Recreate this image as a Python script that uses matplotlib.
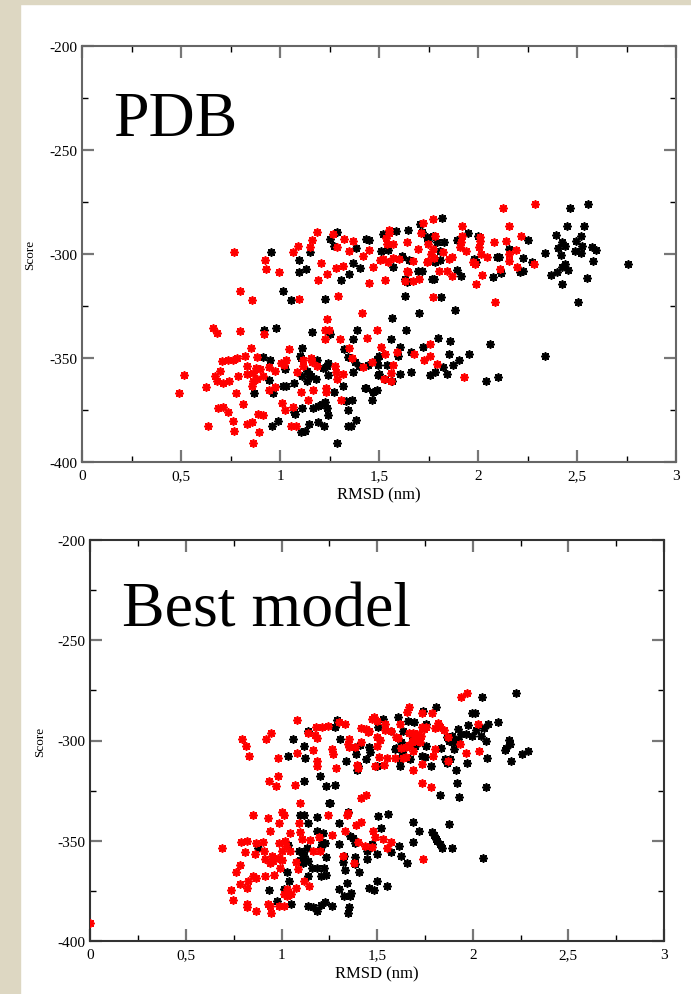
import matplotlib.pyplot as plt
import numpy as np
from matplotlib.patches import Rectangle
from matplotlib.ticker import MultipleLocator, FuncFormatter

plt.rcParams['font.family'] = ['Liberation Serif', 'DejaVu Serif']

# (RMSD nm, score) pairs, PDB panel
pdb_black = [
    (0.955,-298.9),(1.098,-302.8),(1.096,-308.8),(1.133,-307.2),(1.150,-298.9),(1.253,-292.8),(1.286,-289.6),
    (1.273,-296.0),(1.384,-297.3),(1.434,-292.8),(1.451,-293.5),(1.367,-304.5),(1.404,-306.9),(1.350,-309.6),
    (1.306,-312.5),(1.017,-317.7),(1.056,-322.1),(1.229,-321.7),(0.980,-335.4),(0.919,-336.7),(1.163,-337.7),
    (1.254,-338.3),(1.367,-340.9),(1.387,-336.7),(1.323,-345.7),(1.111,-345.2),(1.101,-348.9),(1.105,-350.2),
    (0.912,-349.7),(0.951,-350.8),(1.185,-350.8),(1.244,-352.4),(1.236,-353.7),(1.342,-349.5),(1.380,-351.8),
    (1.397,-353.7),(1.446,-353.4),(1.497,-353.4),(1.492,-350.5),(1.135,-356.4),(1.145,-357.7),(1.155,-358.5),
    (1.135,-361.2),(1.109,-358.5),(1.182,-360.1),(1.244,-358.2),(1.215,-354.7),(1.370,-356.9),(1.493,-358.0),
    (0.944,-360.8),(1.025,-355.3),(1.072,-362.0),(1.017,-363.3),(1.029,-363.3),(0.963,-367.0),(0.870,-367.0),
    (1.274,-366.5),(1.320,-363.3),(1.429,-364.3),(1.468,-366.5),(1.465,-370.1),(1.332,-370.9),(1.362,-370.1),
    (1.229,-371.0),(1.214,-372.1),(1.190,-372.9),(1.168,-374.1),(1.236,-374.1),(1.244,-377.4),(1.111,-374.0),
    (1.072,-375.8),(1.076,-377.1),(1.345,-374.9),(1.384,-379.7),(0.990,-380.2),(0.960,-382.6),(1.145,-381.6),
    (1.194,-381.0),(1.224,-382.9),(1.342,-382.7),(1.359,-382.7),(1.126,-385.0),(1.106,-385.8),(1.286,-391.0),
    (2.557,-276.0),(2.465,-277.9),(2.537,-286.4),(2.451,-286.4),(2.394,-290.9),(2.519,-291.5),(2.495,-293.9),
    (2.423,-294.4),(2.439,-296.0),(2.406,-297.3),(2.524,-296.0),(2.490,-298.4),(2.520,-299.7),(2.577,-296.8),
    (2.596,-298.1),(2.582,-303.2),(2.418,-300.5),(2.340,-299.5),(2.273,-304.0),(2.441,-304.8),(2.423,-306.4),
    (2.453,-307.5),(2.397,-308.5),(2.367,-310.1),(2.423,-314.4),(2.552,-311.5),(2.503,-323.2),(2.756,-305.0),
    (2.254,-293.3),(2.226,-301.9),(2.212,-308.5),(2.229,-308.0),(2.114,-309.1),(2.077,-311.2),(2.108,-301.3),
    (2.094,-301.3),(2.157,-297.6),(2.002,-291.2),(1.951,-290.1),(1.896,-293.3),(1.892,-307.5),(1.912,-310.4),
    (1.981,-302.4),(1.990,-304.0),(1.830,-294.4),(1.808,-298.4),(1.791,-294.4),(1.783,-304.0),(1.808,-302.7),
    (1.766,-312.0),(1.780,-312.0),(1.817,-282.9),(1.707,-285.6),(1.716,-289.6),(1.741,-292.0),(1.749,-293.6),
    (1.771,-291.2),(1.699,-308.0),(1.716,-308.3),(1.653,-302.7),(1.618,-300.8),(1.614,-301.6),(1.584,-289.1),
    (1.645,-288.3),(1.547,-297.9),(1.572,-306.4),(1.522,-290.4),(1.508,-298.4),(1.631,-312.0),(1.643,-313.6),
    (1.813,-320.8),(1.631,-320.0),(1.884,-326.9),(1.704,-328.4),(1.567,-330.9),(1.636,-336.4),(1.561,-340.9),
    (1.606,-344.9),(1.662,-347.3),(1.724,-344.6),(1.796,-340.6),(1.859,-341.7),(1.855,-348.1),(1.955,-348.1),
    (1.906,-351.0),(1.875,-353.2),(1.822,-354.5),(1.842,-357.7),(1.783,-356.9),(1.758,-358.2),(2.062,-343.3),
    (2.337,-348.9),(2.039,-361.2),(2.103,-359.3),(1.598,-348.9),(1.606,-357.7),(1.660,-356.6),(1.500,-348.9),
    (1.542,-353.4),(1.500,-357.7),(1.530,-360.1),(1.564,-360.9),(1.468,-366.5),(1.492,-365.2),(1.433,-364.4),
]
pdb_red = [
    (0.768,-298.9),(0.926,-302.8),(0.929,-307.4),(0.993,-308.8),(1.067,-298.9),(1.093,-296.0),(1.152,-296.7),
    (1.163,-293.1),(1.185,-289.6),(1.269,-290.6),(1.286,-296.8),(1.323,-292.8),(1.367,-293.9),(1.347,-298.6),
    (1.421,-300.8),(1.450,-297.9),(1.471,-306.4),(1.450,-314.0),(1.209,-304.5),(1.190,-312.5),(1.236,-309.8),
    (1.283,-306.9),(1.316,-306.0),(0.798,-317.7),(0.857,-322.3),(1.098,-321.8),(1.293,-320.1),(1.416,-328.6),
    (1.236,-331.3),(0.660,-335.4),(0.680,-337.8),(0.798,-336.9),(0.917,-338.3),(1.229,-336.7),(1.246,-336.7),
    (1.303,-341.1),(1.441,-340.6),(1.492,-336.4),(1.229,-341.1),(1.347,-345.4),(1.044,-345.7),(0.852,-345.2),
    (0.705,-351.3),(0.739,-350.8),(0.761,-350.8),(0.785,-349.9),(0.822,-349.1),(0.886,-349.4),(0.832,-353.7),
    (0.697,-356.1),(0.879,-355.0),(0.899,-355.5),(0.865,-357.0),(0.912,-358.5),(0.882,-360.0),(0.865,-361.2),
    (0.946,-354.4),(0.975,-356.4),(1.005,-352.6),(1.020,-353.2),(1.029,-350.8),(1.087,-356.9),(1.114,-353.7),
    (1.114,-350.8),(1.157,-350.2),(1.160,-351.8),(1.185,-353.7),(1.278,-353.7),(1.283,-356.6),(1.320,-357.7),
    (1.286,-360.1),(1.362,-350.2),(1.421,-354.5),(1.465,-352.1),(0.517,-358.4),(0.673,-358.5),(0.680,-360.9),
    (0.710,-362.0),(0.744,-361.2),(0.788,-358.5),(0.832,-357.7),(0.857,-363.3),(0.492,-367.0),(0.626,-363.8),
    (0.778,-367.0),(0.946,-365.3),(0.976,-364.0),(1.008,-371.4),(1.025,-374.9),(1.067,-373.7),(1.106,-366.5),
    (1.143,-370.2),(1.165,-365.3),(1.232,-364.6),(1.232,-366.5),(1.308,-370.1),(0.685,-374.2),(0.710,-373.7),
    (0.739,-376.1),(0.811,-372.3),(0.891,-377.0),(0.912,-377.4),(0.764,-380.3),(0.835,-381.6),(0.859,-381.0),
    (0.636,-382.6),(0.768,-385.0),(0.896,-385.8),(1.057,-382.6),(1.081,-382.6),(0.865,-391.0),
    (2.125,-277.9),(2.290,-276.0),(2.158,-286.4),(1.921,-286.4),(1.774,-283.2),(1.724,-285.3),(1.548,-288.3),
    (1.549,-289.9),(1.535,-292.5),(1.569,-295.2),(1.542,-295.2),(1.505,-302.7),(1.522,-302.4),(1.545,-303.7),
    (1.572,-302.1),(1.599,-302.6),(1.643,-294.1),(1.699,-297.6),(1.673,-303.2),(1.710,-290.1),(1.749,-295.2),
    (1.774,-297.6),(1.761,-300.0),(1.749,-303.2),(1.741,-304.0),(1.778,-302.1),(1.783,-291.2),(1.825,-299.2),
    (1.855,-302.4),(1.867,-301.6),(1.918,-291.2),(1.913,-294.4),(1.909,-296.8),(1.938,-298.4),(2.010,-292.0),
    (2.010,-293.6),(2.005,-296.5),(2.015,-300.0),(1.976,-304.0),(1.985,-304.8),(2.044,-301.6),(2.082,-294.4),
    (2.141,-293.6),(2.157,-300.0),(2.157,-303.2),(2.190,-297.9),(2.217,-291.2),(2.195,-306.4),(2.283,-305.0),
    (2.111,-307.2),(2.086,-323.2),(2.019,-310.1),(1.990,-314.4),(1.867,-310.4),(1.842,-308.0),(1.805,-308.0),
    (1.704,-312.0),(1.774,-320.8),(1.640,-308.0),(1.648,-308.5),(1.673,-312.8),(1.631,-312.8),(1.530,-312.5),
    (1.758,-343.3),(1.758,-348.9),(1.729,-351.0),(1.791,-352.9),(1.678,-348.1),(1.593,-347.0),(1.569,-353.4),
    (1.562,-357.4),(1.562,-360.9),(1.527,-360.1),(1.929,-359.1),(1.508,-344.6),(1.530,-348.1),
]

# (RMSD nm, score) pairs, best model panel
best_black = [
    (1.061,-299.3),(1.141,-295.5),(1.120,-302.9),(1.124,-308.9),(1.035,-307.6),(1.199,-317.9),(1.233,-322.5),
    (1.115,-320.0),(1.249,-331.3),(1.096,-337.0),(1.117,-337.0),(1.139,-341.1),(1.186,-338.3),(1.186,-345.3),
    (1.218,-346.1),(1.213,-350.8),(1.226,-351.1),(1.235,-358.3),(1.207,-353.3),(0.875,-353.8),(1.033,-351.9),
    (1.091,-354.9),(1.108,-355.4),(1.131,-353.6),(1.117,-357.4),(1.099,-359.6),(1.110,-361.1),(1.136,-359.9),
    (1.160,-363.8),(1.183,-363.8),(1.223,-363.6),(1.141,-367.4),(1.204,-367.4),(1.232,-367.1),(1.026,-365.4),
    (1.038,-369.9),(1.012,-374.0),(0.936,-374.7),(0.977,-379.9),(1.049,-381.5),(1.139,-382.7),(1.166,-383.2),
    (1.186,-384.9),(1.207,-382.0),(1.226,-380.4),
    (2.227,-276.3),(2.049,-278.1),(1.810,-283.3),(1.741,-285.5),(1.998,-286.4),(2.011,-286.4),(2.133,-290.9),
    (2.080,-291.8),(2.059,-293.8),(2.019,-294.6),(1.976,-292.3),(1.924,-294.3),(1.941,-296.8),(1.964,-296.8),
    (1.924,-299.3),(1.995,-297.9),(2.045,-297.9),(2.068,-300.1),(2.190,-299.6),(2.194,-301.7),(2.176,-303.9),
    (2.167,-304.6),(2.289,-305.1),(2.255,-306.7),(2.200,-310.4),(2.075,-308.6),(1.971,-311.4),(1.910,-314.5),
    (1.918,-321.2),(1.929,-328.3),(2.068,-323.4),(1.831,-327.2),(1.863,-298.4),(1.875,-300.1),(1.894,-297.9),
    (1.897,-300.9),(1.901,-304.2),(1.857,-309.2),(1.880,-309.2),(1.863,-311.2),(1.836,-303.9),(1.784,-312.6),
    (1.732,-307.6),(1.749,-308.4),(1.755,-302.9),(1.688,-298.8),(1.697,-302.6),(1.662,-290.1),(1.694,-290.6),
    (1.758,-291.8),(1.610,-288.4),(1.636,-295.1),(1.624,-300.9),(1.640,-303.4),(1.631,-305.9),(1.622,-309.2),
    (1.619,-312.6),(1.671,-309.2),(1.575,-295.1),(1.592,-304.2),(1.601,-303.9),(1.528,-289.3),(1.502,-293.4),
    (1.500,-312.7),(1.458,-303.4),(1.462,-305.6),(1.444,-309.2),(1.401,-312.6),(1.396,-314.5),(1.389,-306.7),
    (1.385,-303.1),(1.410,-302.2),(1.336,-310.1),(1.305,-299.3),(1.288,-289.6),(1.279,-293.4),(1.277,-322.2),
    (1.253,-331.3),(1.350,-335.8),(1.300,-341.1),(1.502,-337.8),(1.559,-336.6),(1.521,-343.6),(1.688,-340.8),
    (1.720,-345.0),(1.789,-345.5),(1.796,-347.1),(1.810,-349.1),(1.815,-350.0),(1.828,-351.6),(1.840,-353.6),
    (1.875,-341.6),(1.889,-353.6),(1.688,-350.5),(1.612,-352.5),(1.357,-347.5),(1.375,-348.8),(1.383,-351.1),
    (1.302,-351.6),(1.448,-354.9),(1.500,-356.6),(1.471,-351.6),(1.627,-357.4),(1.570,-355.4),(2.054,-358.8),
    (1.448,-359.1),(1.654,-361.2),(1.405,-365.4),(1.331,-364.6),(1.323,-360.7),(1.384,-361.6),(1.497,-369.9),
    (1.457,-373.7),(1.483,-374.4),(1.551,-372.4),(1.340,-371.0),(1.298,-374.0),(1.361,-376.0),(1.358,-377.4),
    (1.326,-377.7),(1.354,-382.8),(1.349,-386.0),(1.262,-382.7),(1.384,-358.2),(1.328,-357.4),
]
best_red = [
    (1.082,-289.8),(0.944,-296.3),(0.793,-299.3),(0.918,-299.3),(0.812,-302.9),(0.831,-307.6),(0.984,-308.9),
    (1.139,-296.3),(1.174,-297.3),(1.188,-298.8),(1.179,-293.4),(1.213,-293.1),(1.244,-293.0),(1.164,-304.7),
    (1.082,-306.2),(1.183,-310.1),(1.188,-312.6),(0.979,-317.9),(0.934,-320.0),(0.970,-322.5),(1.070,-322.0),
    (1.096,-331.3),(0.852,-337.0),(0.930,-338.5),(1.005,-335.8),(1.012,-337.0),(0.988,-341.3),(1.091,-341.1),
    (0.939,-345.3),(1.042,-346.3),(1.098,-345.8),(1.244,-337.0),(1.195,-348.3),(0.690,-353.8),(0.787,-350.8),
    (0.822,-350.3),(0.869,-351.3),(0.904,-350.8),(0.807,-355.8),(0.859,-356.8),(0.910,-355.0),(0.916,-359.0),
    (0.948,-357.7),(0.956,-360.2),(0.979,-358.8),(1.000,-359.5),(0.939,-361.1),(0.988,-351.3),(1.016,-350.3),
    (1.023,-352.4),(1.005,-354.9),(1.044,-355.1),(1.075,-360.8),(1.087,-364.1),(1.108,-349.1),(1.148,-349.6),
    (1.162,-355.1),(1.200,-354.9),(0.782,-362.1),(0.763,-365.4),(0.826,-369.9),(0.852,-367.7),(0.864,-368.4),
    (0.916,-367.4),(0.962,-367.1),(0.993,-363.4),(0.782,-371.6),(0.817,-373.7),(0.735,-374.7),(0.744,-379.7),
    (0.817,-381.5),(0.822,-382.9),(0.866,-385.0),(0.930,-381.5),(0.939,-382.4),(0.943,-386.0),(0.986,-382.7),
    (1.012,-382.7),(1.030,-374.0),(1.012,-376.6),(1.030,-377.7),(1.050,-376.6),(1.075,-373.7),(1.115,-369.9),
    (1.145,-372.4),(0.0,-391.0),
    (1.937,-278.1),(1.971,-276.3),(1.669,-283.1),(1.657,-285.6),(1.732,-286.4),(1.786,-286.4),(1.471,-289.3),
    (1.483,-288.4),(1.500,-290.1),(1.302,-290.6),(1.333,-291.8),(1.540,-291.8),(1.418,-293.9),(1.444,-294.3),
    (1.458,-295.1),(1.453,-295.9),(1.500,-298.3),(1.514,-299.9),(1.497,-302.9),(1.540,-294.9),(1.575,-295.3),
    (1.619,-291.8),(1.598,-298.4),(1.610,-298.9),(1.666,-296.4),(1.688,-296.2),(1.709,-296.8),(1.727,-297.6),
    (1.692,-298.9),(1.715,-300.1),(1.681,-300.9),(1.723,-300.9),(1.667,-302.3),(1.624,-303.9),(1.650,-303.4),
    (1.688,-305.1),(1.744,-294.3),(1.732,-293.1),(1.755,-293.4),(1.803,-293.8),(1.819,-291.3),(1.828,-293.4),
    (1.852,-294.6),(1.868,-298.4),(1.805,-304.2),(1.871,-310.1),(1.967,-306.4),(1.932,-301.7),(2.025,-291.6),
    (2.030,-305.1),(1.793,-307.6),(1.737,-311.9),(1.688,-314.5),(1.650,-308.4),(1.633,-308.9),(1.592,-308.9),
    (1.552,-308.9),(1.511,-308.4),(1.537,-312.2),(1.488,-312.7),(1.397,-312.2),(1.401,-313.5),(1.354,-299.3),
    (1.354,-303.4),(1.349,-301.7),(1.383,-303.4),(1.418,-300.9),(1.263,-304.2),(1.267,-306.7),(1.284,-313.9),
    (1.734,-321.2),(1.781,-323.4),(1.413,-328.5),(1.444,-327.2),(1.345,-336.3),(1.340,-337.2),(1.389,-342.0),
    (1.415,-340.8),(1.333,-345.3),(1.476,-345.3),(1.488,-348.3),(1.401,-350.8),(1.436,-352.5),(1.532,-349.1),
    (1.570,-350.5),(1.552,-353.6),(1.265,-347.1),(1.741,-359.1),(1.380,-361.2),(1.323,-357.7),(1.471,-353.3),
]


def star_points(ax, pts, color):
    pts = np.array(pts)
    # xmgrace-like star: filled dot with short spikes
    ax.scatter(pts[:, 0], pts[:, 1], s=14, marker='o', color=color, linewidths=0, zorder=3)
    ax.scatter(pts[:, 0], pts[:, 1], s=26, marker=(8, 2, 0), color=color, linewidths=1.3, zorder=3)


def style_axes(ax, spine_color):
    ax.set_xlim(0, 3)
    ax.set_ylim(-400, -200)
    ax.xaxis.set_major_locator(MultipleLocator(0.5))
    ax.xaxis.set_minor_locator(MultipleLocator(0.25))
    ax.yaxis.set_major_locator(MultipleLocator(50))
    ax.yaxis.set_minor_locator(MultipleLocator(25))
    ax.xaxis.set_major_formatter(FuncFormatter(lambda v, p: f'{v:g}'.replace('.', ',')))
    ax.yaxis.set_major_formatter(FuncFormatter(lambda v, p: f'{v:g}'))
    ax.tick_params(which='both', direction='in', top=True, right=True, labelsize=11)
    ax.tick_params(which='major', length=8.5, width=1.6, color='#777777', pad=3.5)
    ax.tick_params(axis='x', which='major', pad=5)
    ax.tick_params(which='minor', length=4.5, width=1.0, color='black')
    for sp in ax.spines.values():
        sp.set_color(spine_color)
        sp.set_linewidth(1.5)
    ax.set_xlabel('RMSD (nm)', fontsize=12, labelpad=3.5)
    ax.set_ylabel('Score', fontsize=9.5)
    ax.yaxis.set_label_coords(-0.077, 0.5)


fig = plt.figure(figsize=(6.91, 9.95), dpi=100)
fig.patch.set_facecolor('white')
# slide background strips
fig.patches.append(Rectangle((0, 0), 20 / 691, 1, transform=fig.transFigure, color='#ddd7c2', zorder=0))
fig.patches.append(Rectangle((0, 1 - 5 / 995), 1, 5 / 995, transform=fig.transFigure, color='#ddd7c2', zorder=0))

ax1 = fig.add_axes([82 / 691, 1 - 463 / 995, 594 / 691, 416 / 995])
style_axes(ax1, '#666666')
star_points(ax1, pdb_black, 'black')
star_points(ax1, pdb_red, 'red')
ax1.text(0.157, -242.8, 'PDB', fontsize=46, ha='left', va='baseline')

ax2 = fig.add_axes([90.3 / 691, 1 - 942 / 995, 573.7 / 691, 401 / 995])
style_axes(ax2, '#333333')
star_points(ax2, best_black, 'black')
star_points(ax2, best_red, 'red')
ax2.text(0.164, -242.7, 'Best model', fontsize=46, ha='left', va='baseline')

fig.savefig('out.png', dpi=100)
